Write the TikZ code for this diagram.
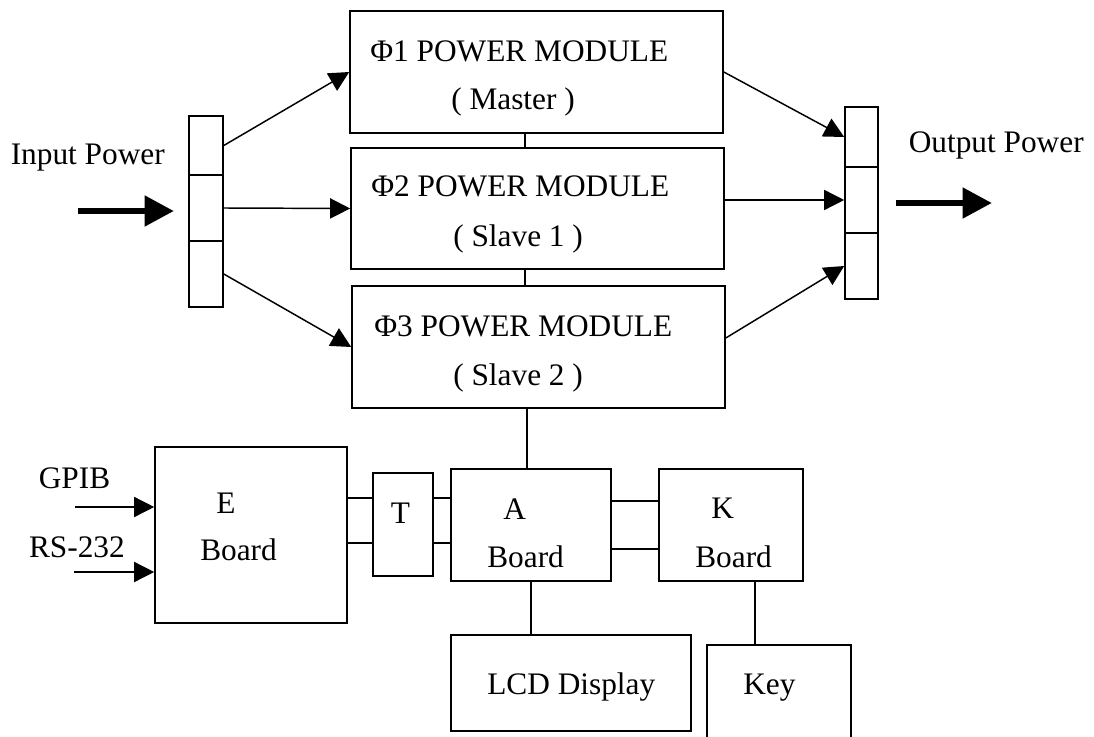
\documentclass[tikz,border=0pt]{standalone}
\usepackage{fontspec}
\setmainfont{Liberation Serif}
\usetikzlibrary{arrows.meta}
\usetikzlibrary{calc}

\tikzset{
  blk/.style={draw, line width=1.2pt, inner sep=0pt},
  lbl/.style={inner sep=0pt, anchor=base west, font=\fontsize{23.5}{28}\selectfont},
  wire/.style={line width=1.1pt},
  arr/.style={line width=1.1pt, -{Triangle[length=15pt 0 0, width=15pt 0 0]}},
  bigarr/.style={line width=5pt, -{Triangle[length=22pt 0 0, width=22pt 0 0]}}
}

\begin{document}
\begin{tikzpicture}[x={(0.75pt,0)},y={(0,-0.75pt)}]
        \useasboundingbox (0,0) rectangle (1094,737);
        \clip (0,0) rectangle (1094,737);

        % power modules
        \node [blk, minimum width=279.75pt, minimum height=91.5pt](pm1) at (536.5,72){};
        \node [blk, minimum width=279.75pt, minimum height=90.75pt](pm2) at (537.5,208.5){};
        \node [blk, minimum width=279.75pt, minimum height=91.5pt](pm3) at (538.5,347){};

        \node [lbl](pm1a) at (370,62){Φ1 POWER MODULE};
        \node [lbl](pm1b) at (451,110){( Master )};
        \node [lbl](pm2a) at (371,197){Φ2 POWER MODULE};
        \node [lbl](pm2b) at (453,247){( Slave 1 )};
        \node [lbl](pm3a) at (374,337){Φ3 POWER MODULE};
        \node [lbl](pm3b) at (453,385){( Slave 2 )};

        % input / output bars
        \node [blk, minimum width=25.5pt, minimum height=44.25pt](in1) at (206,145.5){};
        \node [blk, minimum width=25.5pt, minimum height=49.5pt](in2) at (206,208){};
        \node [blk, minimum width=25.5pt, minimum height=49.5pt](in3) at (206,274){};
        \node [blk, minimum width=24.75pt, minimum height=45pt](out1) at (861.5,137){};
        \node [blk, minimum width=24.75pt, minimum height=49.5pt](out2) at (861.5,200){};
        \node [blk, minimum width=24.75pt, minimum height=49.5pt](out3) at (861.5,266){};

        \node [lbl](tin) at (10.5,165){Input Power};
        \node [lbl](tout) at (908.5,153){Output Power};
        \coordinate (ia1) at (78,211);
        \coordinate (ia2) at (174,211);
        \coordinate (oa1) at (896,203);
        \coordinate (oa2) at (992,203);
        \draw [bigarr] (ia1) -- (ia2);
        \draw [bigarr] (oa1) -- (oa2);

        \draw [arr] (in1.east) -- (pm1.west);
        \draw [arr] (in2.east) -- (pm2.west);
        \draw [arr] (in3.east) -- (pm3.west);
        \draw [arr] (pm1.east) -- (out1.west);
        \draw [arr] (pm2.east |- out2.west) -- (out2.west);
        \draw [arr] ([yshift=6.75pt]pm3.east) -- (out3.west);

        \coordinate (bus) at (525,0);
        \draw [wire] (pm1.south -| bus) -- (pm2.north -| bus);
        \draw [wire] (pm2.south -| bus) -- (pm3.north -| bus);

        % boards
        \node [blk, minimum width=144pt, minimum height=132pt](eb) at (251,535){};
        \node [blk, minimum width=45pt, minimum height=77.25pt](tb) at (403,524.5){};
        \node [blk, minimum width=120pt, minimum height=84pt](ab) at (531,525){};
        \node [blk, minimum width=108pt, minimum height=84pt](kb) at (731,525){};
        \node [blk, minimum width=180pt, minimum height=72pt](lcd) at (571,683){};
        \node [blk, minimum width=108pt, minimum height=116.25pt](key) at (779,722.5){};

        \node [lbl](eb1) at (216,513){E};
        \node [lbl](eb2) at (200,560){Board};
        \node [lbl](tb1) at (390.5,523){T};
        \node [lbl](ab1) at (503,519){A};
        \node [lbl](ab2) at (487,567){Board};
        \node [lbl](kb1) at (711,518){K};
        \node [lbl](kb2) at (695,567){Board};
        \node [lbl](lcd1) at (487,694){LCD Display};
        \node [lbl](key1) at (743,694){Key};

        \node [lbl](tgpib) at (38.6,488){GPIB};
        \node [lbl](trs) at (28.8,557){RS-232};
        \coordinate (gp) at (75,507);
        \coordinate (rs) at (74,572);
        \draw [arr] (gp) -- (eb.west |- gp);
        \draw [arr] (rs) -- (eb.west |- rs);

        \coordinate (w1) at (0,498);
        \coordinate (w2) at (0,543);
        \coordinate (w3) at (0,501);
        \coordinate (w4) at (0,549);
        \draw [wire] (eb.east |- w1) -- (tb.west |- w1);
        \draw [wire] (eb.east |- w2) -- (tb.west |- w2);
        \draw [wire] (tb.east |- w1) -- (ab.west |- w1);
        \draw [wire] (tb.east |- w2) -- (ab.west |- w2);
        \draw [wire] (ab.east |- w3) -- (kb.west |- w3);
        \draw [wire] (ab.east |- w4) -- (kb.west |- w4);

        \coordinate (la) at (527,0);
        \coordinate (lk) at (755,0);
        \draw [wire] (pm3.south -| la) -- (ab.north -| la);
        \draw [wire] (ab.south) -- (ab.south |- lcd.north);
        \draw [wire] (kb.south -| lk) -- (key.north -| lk);
\end{tikzpicture}
\end{document}
